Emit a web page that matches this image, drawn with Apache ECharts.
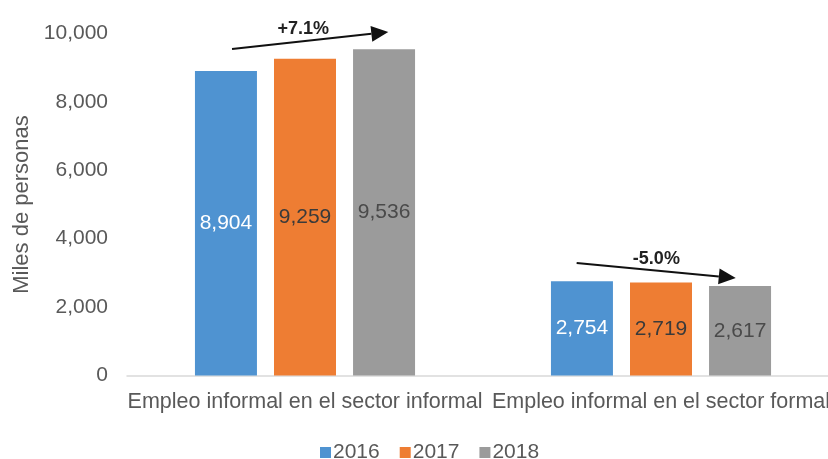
<!DOCTYPE html>
<html>
<head>
<meta charset="utf-8">
<script src="https://cdn.jsdelivr.net/npm/echarts@6/dist/echarts.min.js"></script>
<style>html,body{margin:0;padding:0;background:#fff}#c{width:828px;height:459px}</style>
</head>
<body>
<div id="c"></div>
<script>
const categories = ['Empleo informal en el sector informal', 'Empleo informal en el sector formal'];
const years = ['2016', '2017', '2018'];
const values2016 = [8904, 2754];
const values2017 = [9259, 2719];
const values2018 = [9536, 2617];
const trendLabels = ['+7.1%', '-5.0%'];
// arrow endpoints in value units (start above first bar, end above last bar)
const trendStart = [9547, 3290];
const trendEnd = [10044, 2851];
const yTicks = { min: 0, max: 10000, interval: 2000 };

const colors = ['#4F93D1', '#EE7D33', '#9B9B9B'];
const labelColors = ['#ffffff', '#3a3a3a', '#4a4a4a'];
const FONT = 'Liberation Sans, Arial, sans-serif';

const chart = echarts.init(document.getElementById('c'), null, { renderer: 'canvas' });
const seriesData = [values2016, values2017, values2018];

chart.setOption({
  animation: false,
  textStyle: { fontFamily: FONT },
  grid: { left: 127, width: 712, top: 33.5, bottom: 83.5, containLabel: false, outerBoundsMode: 'none' },
  legend: {
    data: years, left: 315, top: 437, icon: 'rect', itemWidth: 11, itemHeight: 11, itemGap: 20,
    textStyle: { fontSize: 21, color: '#595959', fontFamily: FONT, padding: [0, 0, 0, -3] }
  },
  xAxis: {
    type: 'category', data: categories,
    axisLine: { show: true, lineStyle: { color: '#D9D9D9', width: 1.5 } }, axisTick: { show: false },
    axisLabel: { fontSize: 21.5, color: '#595959', margin: 16, interval: 0, fontFamily: FONT }
  },
  yAxis: {
    type: 'value', min: yTicks.min, max: yTicks.max, interval: yTicks.interval,
    splitLine: { show: false }, axisLine: { show: false }, axisTick: { show: false },
    axisLabel: { fontSize: 21, color: '#595959', margin: 19, fontFamily: FONT,
      formatter: v => v.toLocaleString('en-US') },
    name: 'Miles de personas', nameLocation: 'middle', nameGap: 94, nameRotate: 90,
    nameTextStyle: { fontSize: 22, color: '#595959', fontFamily: FONT, padding: [0, 0, 0, 0] }
  },
  series: years.map((y, i) => ({
    name: y, type: 'bar', data: seriesData[i], barWidth: 62, barGap: '27.5%',
    itemStyle: { color: colors[i] },
    label: { show: true, position: 'inside', fontSize: 21, color: labelColors[i], fontFamily: FONT,
      formatter: p => p.value.toLocaleString('en-US') }
  }))
});

function drawExtras() {
  const graphics = [];
  const p0 = chart.convertToPixel({ gridIndex: 0 }, [0, 0]);
  const band = chart.convertToPixel({ gridIndex: 0 }, [1, 0])[0] - p0[0];
  categories.forEach((c, i) => {
    const cx = chart.convertToPixel({ gridIndex: 0 }, [i, 0])[0];
    const xs = i === 0 ? cx - 0.205 * band : cx - 0.237 * band;
    const xe = i === 0 ? cx + 0.234 * band : cx + 0.21 * band;
    const ys = chart.convertToPixel({ gridIndex: 0 }, [i, trendStart[i]])[1];
    const ye = chart.convertToPixel({ gridIndex: 0 }, [i, trendEnd[i]])[1];
    const ang = Math.atan2(ye - ys, xe - xs);
    const hl = 17, hw = 8;
    const bx = xe - hl * Math.cos(ang), by = ye - hl * Math.sin(ang);
    graphics.push({ type: 'line', shape: { x1: xs, y1: ys, x2: bx, y2: by },
      style: { stroke: '#111', lineWidth: 2 }, z: 20 });
    graphics.push({ type: 'polygon', shape: { points: [
      [xe, ye],
      [bx - hw * Math.sin(ang), by + hw * Math.cos(ang)],
      [bx + hw * Math.sin(ang), by - hw * Math.cos(ang)]
    ] }, style: { fill: '#111' }, z: 20 });
    const tx = i === 0 ? cx - 0.005 * band : cx - 0.013 * band;
    const ty = (ys + ye) / 2 - 11;
    graphics.push({ type: 'text', x: tx, y: ty, style: { text: trendLabels[i], fontSize: 18, fontWeight: 'bold',
      fill: '#222', fontFamily: FONT, align: 'center', verticalAlign: 'middle' }, z: 21 });
  });
  chart.setOption({ graphic: graphics });
}
drawExtras();
</script>
</body>
</html>
